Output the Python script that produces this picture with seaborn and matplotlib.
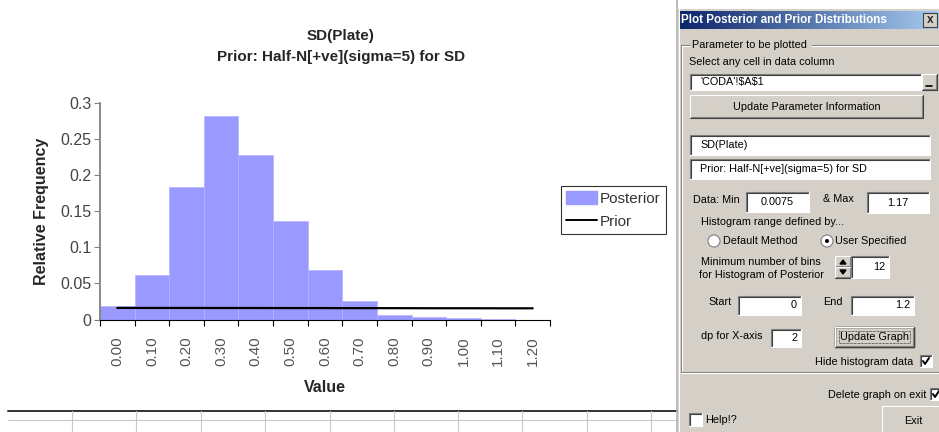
import numpy as np
import seaborn as sns
import matplotlib.pyplot as plt
from matplotlib.patches import Rectangle, Circle, Polygon
from matplotlib.lines import Line2D

# valori
bins = ['0.00', '0.10', '0.20', '0.30', '0.40', '0.50', '0.60',
        '0.70', '0.80', '0.90', '1.00', '1.10', '1.20']
posterior = [0.018, 0.061, 0.183, 0.281, 0.227, 0.136, 0.069,
             0.026, 0.006, 0.003, 0.002, 0.001, 0.0]
prior = [0.0160, 0.0160, 0.0160, 0.0159, 0.0159, 0.0158, 0.0158,
         0.0157, 0.0157, 0.0156, 0.0156, 0.0155, 0.0155]
yticks = [0, 0.05, 0.1, 0.15, 0.2, 0.25, 0.3]
ytick_labels = ['0', '0.05', '0.1', '0.15', '0.2', '0.25', '0.3']

sns.set_style('white')
plt.rcParams['font.family'] = ['Liberation Sans', 'DejaVu Sans']

W, H = 939, 432
fig = plt.figure(figsize=(W / 100, H / 100), dpi=100)

# livello di sfondo in pixel (dialogo + griglia del foglio)
bg = fig.add_axes([0, 0, 1, 1], zorder=0)
bg.set_xlim(0, W)
bg.set_ylim(H, 0)
bg.axis('off')

# grafico
ax = fig.add_axes([100 / W, 1 - 319.5 / H, 450 / W, 216.8 / H], zorder=2)
sns.barplot(x=bins, y=posterior, color='#9999FF', saturation=1, width=1,
            edgecolor='#b4b4ff', linewidth=0.5, ax=ax)
ax.plot(range(len(bins)), prior, color='black', lw=1.6)
ax.set_xlim(-0.5, len(bins) - 0.5)
ax.set_ylim(0, 0.3)
ax.set_facecolor('none')
for s in ['top', 'right']:
    ax.spines[s].set_visible(False)
ax.spines['left'].set_color('#808080')
ax.spines['left'].set_linewidth(1.3)
ax.spines['bottom'].set_color('black')
ax.set_yticks(yticks)
ax.set_yticklabels(ytick_labels)
ax.tick_params(axis='y', left=True, length=4, width=0.8, color='#808080',
               pad=2, labelsize=11.5, labelcolor='#444444')
ax.set_xticks(range(len(bins)))
ax.set_xticklabels(bins, rotation=90)
ax.set_xticks(np.arange(-0.5, len(bins)), minor=True)
ax.tick_params(axis='x', which='major', length=0, pad=12, labelsize=11,
               labelcolor='#555555')
ax.tick_params(axis='x', which='minor', bottom=True, length=4, width=0.8,
               color='black')
ax.set_xlabel('Value', fontsize=11.5, fontweight='bold', labelpad=10)
ax.set_ylabel('Relative Frequency', fontsize=11.5, fontweight='bold', labelpad=8)

fig.text(341 / W, 1 - 36 / H, 'SD(Plate)', ha='center', va='center',
         fontsize=11, fontweight='bold')
fig.text(341 / W, 1 - 57 / H, 'Prior: Half-N[+ve](sigma=5) for SD',
         ha='center', va='center', fontsize=11, fontweight='bold')

handles = [Rectangle((0, 0), 1, 1, color='#9999FF'),
           Line2D([], [], color='black', lw=1.4)]
leg = fig.legend(handles, ['Posterior', 'Prior'], loc='upper left',
                 bbox_to_anchor=(561 / W, 1 - 186 / H), fontsize=11,
                 frameon=True, fancybox=False, borderpad=0.35,
                 handlelength=2.0, handleheight=0.9, handletextpad=0.2,
                 labelspacing=0.55, borderaxespad=0)
leg.get_frame().set_edgecolor('black')
leg.get_frame().set_linewidth(0.8)
for t in leg.get_texts():
    t.set_color('#333333')

# griglia del foglio sotto il grafico
bg.plot([8, 677], [411, 411], color='#333333', lw=1.4)
bg.plot([8, 677], [419.5, 419.5], color='#c8c8c8', lw=0.8)
for gx in [72, 136, 201, 265, 330, 394, 458, 522, 587, 651]:
    bg.plot([gx, gx], [411, H], color='#c8c8c8', lw=0.8)
bg.plot([677, 677], [0, H], color='#b0b0b0', lw=1.2)

# finestra di dialogo
FACE = '#D4D0C8'
DF = 7.8


def label(x, y, s, ha='left', **kw):
    bg.text(x, y, s, ha=ha, va='center', fontsize=DF, color='black', **kw)


def textbox(x0, x1, y0, y1, s='', align='left'):
    bg.add_patch(Rectangle((x0, y0), x1 - x0, y1 - y0, facecolor='white',
                           edgecolor='none'))
    bg.plot([x0, x0, x1], [y1, y0, y0], color='#808080', lw=0.8)
    bg.plot([x0 + 1, x0 + 1, x1 - 1], [y1 - 1, y0 + 1, y0 + 1], color='#404040', lw=0.8)
    bg.plot([x0, x1, x1], [y1, y1, y0], color='white', lw=0.8)
    if s:
        ym = (y0 + y1) / 2
        if align == 'left':
            label(x0 + 10, ym, s)
        elif align == 'right':
            label(x1 - 4, ym, s, ha='right')
        else:
            label((x0 + x1) / 2, ym, s, ha='center')


def button(x0, x1, y0, y1, s='', default=False):
    bg.add_patch(Rectangle((x0, y0), x1 - x0, y1 - y0, facecolor=FACE,
                           edgecolor='none'))
    bg.plot([x0, x0, x1], [y1, y0, y0], color='white', lw=0.8)
    bg.plot([x0, x1, x1], [y1, y1, y0], color='#404040', lw=0.8)
    bg.plot([x0 + 1, x1 - 1, x1 - 1], [y1 - 1, y1 - 1, y0 + 1], color='#808080', lw=0.8)
    if default:
        bg.add_patch(Rectangle((x0, y0), x1 - x0, y1 - y0, facecolor='none',
                               edgecolor='black', lw=1.0))
        bg.add_patch(Rectangle((x0 + 4, y0 + 4), x1 - x0 - 8, y1 - y0 - 8,
                               facecolor='none', edgecolor='black', lw=0.5,
                               linestyle=(0, (1, 1))))
    if s:
        label((x0 + x1) / 2, (y0 + y1) / 2, s, ha='center')


def checkbox(x0, y0, size=12, checked=False):
    textbox(x0, x0 + size, y0, y0 + size)
    if checked:
        bg.plot([x0 + 3, x0 + 5, x0 + 9], [y0 + 6, y0 + 9, y0 + 3],
                color='black', lw=1.4)


def radio(cx, cy, on=False):
    bg.add_patch(Circle((cx, cy), 6, facecolor='white', edgecolor='#808080', lw=0.8))
    if on:
        bg.add_patch(Circle((cx, cy), 2, facecolor='black', edgecolor='none'))


bg.add_patch(Rectangle((678, 9), W - 678, H - 9, facecolor=FACE, edgecolor='none'))
bg.plot([678.5, 678.5], [9, H], color='white', lw=0.8)
grad = np.linspace(0, 1, 256).reshape(1, -1)
c0 = np.array([10, 36, 106]) / 255
c1 = np.array([166, 202, 240]) / 255
img = c0 + (c1 - c0) * grad[..., None]
bg.imshow(img, extent=[680, W, 29, 11], aspect='auto', zorder=1)
bg.set_xlim(0, W)
bg.set_ylim(H, 0)
bg.text(681, 20, 'Plot Posterior and Prior Distributions', color='white',
        fontsize=8.4, fontweight='bold', va='center', ha='left', zorder=2)
bg.add_patch(Rectangle((923, 13), 14, 14, facecolor=FACE, edgecolor='#404040',
                       lw=0.8, zorder=3))
bg.text(930, 20, 'x', ha='center', va='center', fontsize=8.5, fontweight='bold', zorder=4)

# cornice del gruppo
bg.plot([681, 681, 690], [372, 45, 45], color='#808080', lw=0.8)
bg.plot([682, 682, 690], [372, 46, 46], color='white', lw=0.8)
bg.plot([812, W], [45, 45], color='#808080', lw=0.8)
bg.plot([812, W], [46, 46], color='white', lw=0.8)
bg.plot([681, W], [372, 372], color='#808080', lw=0.8)
bg.plot([681, W], [373, 373], color='white', lw=0.8)
label(692, 45, 'Parameter to be plotted')

label(689, 62, 'Select any cell in data column')
textbox(690, 921, 74, 90, "'CODA'!\\$A\\$1")
button(922, 937, 74, 90)
bg.plot([926, 932], [86, 86], color='black', lw=1.2)
button(690, 923, 95, 118, 'Update Parameter Information')
textbox(690, 930, 135, 155, 'SD(Plate)')
textbox(690, 930, 159, 179, 'Prior: Half-N[+ve](sigma=5) for SD')

label(693, 200, 'Data: Min')
textbox(746, 809, 192, 212, '0.0075', align='center')
label(823, 199, '& Max')
textbox(867, 929, 192, 213, '1.17', align='center')

label(701, 222, 'Histogram range defined by...')
radio(714, 241)
label(723, 241, 'Default Method')
radio(827, 241, on=True)
label(835, 241, 'User Specified')

label(761, 262, 'Minimum number of bins', ha='center')
label(761, 275, 'for Histogram of Posterior', ha='center')
button(835, 851, 256, 267)
button(835, 851, 267, 278)
bg.add_patch(Polygon([[840, 264], [846, 264], [843, 260]], color='black'))
bg.add_patch(Polygon([[840, 270], [846, 270], [843, 274]], color='black'))
textbox(851, 889, 256, 278, '12', align='right')

label(708, 302, 'Start')
textbox(738, 801, 296, 315, '0', align='right')
label(823, 302, 'End')
textbox(851, 914, 296, 315, '1.2', align='right')

label(701, 336, 'dp for X-axis')
textbox(771, 801, 329, 347, '2', align='right')
button(835, 914, 327, 347, 'Update Graph', default=True)

label(913, 362, 'Hide histogram data', ha='right')
checkbox(920, 355, checked=True)

label(926, 395, 'Delete graph on exit', ha='right')
checkbox(930, 388, checked=True)

checkbox(689, 413, size=13)
label(705, 420, 'Help!?')
button(882, 945, 406, 436, 'Exit')

fig.savefig('out.png', dpi=100)
